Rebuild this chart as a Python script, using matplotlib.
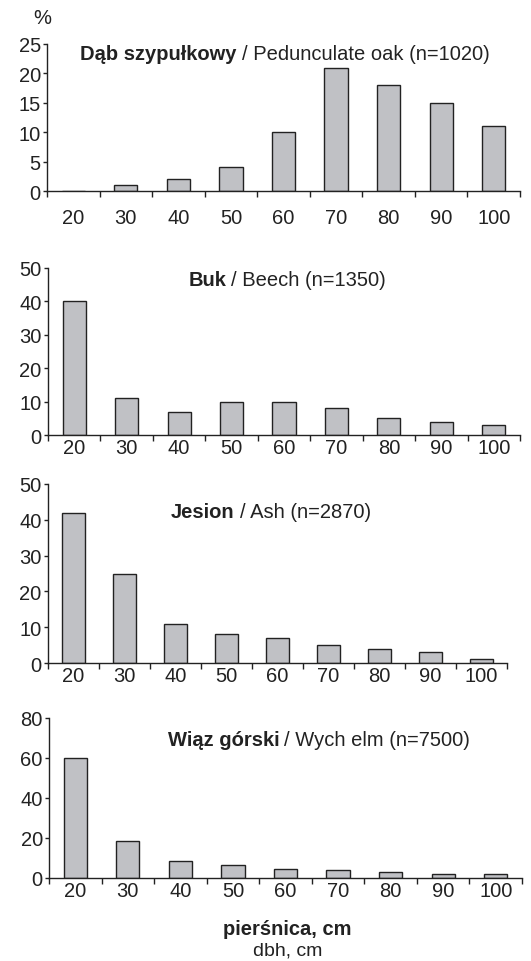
import numpy as np
import matplotlib
matplotlib.use("Agg")
import matplotlib.pyplot as plt

plt.rcParams['font.family'] = ['Liberation Sans', 'DejaVu Sans']

# pierśnica / dbh classes, cm
klasy = [20, 30, 40, 50, 60, 70, 80, 90, 100]

dab = [0, 1, 2, 4, 10, 21, 18.1, 14.9, 11.1]
buk = [40, 11, 7, 10, 10, 8, 5, 4, 3]
jesion = [42, 25, 11, 8, 7, 5, 4, 3, 1]
wiaz = [60, 18.5, 8.5, 6.5, 4.7, 3.8, 2.8, 2, 2]

gatunki_pl = ["Dąb szypułkowy", "Buk", "Jesion", "Wiąz górski"]
gatunki_en = ["Pedunculate oak (n=1020)", "Beech (n=1350)", "Ash (n=2870)", "Wych elm (n=7500)"]
ymax = [25, 50, 50, 80]
ystep = [5, 10, 10, 20]

W, H = 531, 962
fig = plt.figure(figsize=(W / 100, H / 100), dpi=100)

# panel boxes in pixels: left, right, top, bottom
boxy = [(47, 520, 45, 192), (48, 520, 269, 436), (48, 507, 485, 664), (49, 522, 719, 879)]
# title positions (x center, y) in pixels
tytul = [(285, 55), (287, 280), (271, 513), (319, 741)]
xpad = [12, 2.5, 2, 2.5]

ink = "#222222"
fs = 14.5
dane = [dab, buk, jesion, wiaz]
rend = fig.canvas.get_renderer()

for i, vals in enumerate(dane):
    l, r, t, b = boxy[i]
    ax = fig.add_axes([l / W, 1 - b / H, (r - l) / W, (b - t) / H])
    ax.bar(klasy, vals, width=4.4, color="#c0c1c5", edgecolor=ink, linewidth=1.0)
    ax.set_xlim(15, 105)
    ax.set_ylim(0, ymax[i])
    ax.set_yticks(np.arange(0, ymax[i] + 1, ystep[i]))
    ax.set_xticks(klasy)
    ax.set_xticks(np.arange(15, 106, 10), minor=True)
    ax.tick_params(axis='x', which='major', length=0, pad=xpad[i], labelsize=fs, colors=ink)
    ax.tick_params(axis='x', which='minor', length=4, width=1, direction='out', color=ink)
    ax.tick_params(axis='y', length=3, width=1, direction='out', labelsize=fs, pad=1.5, colors=ink)
    for s in ['top', 'right']:
        ax.spines[s].set_visible(False)
    for s in ['left', 'bottom']:
        ax.spines[s].set_color(ink)
        ax.spines[s].set_linewidth(1.0)
    ax.patch.set_alpha(0)

    # bold Polish name + regular English name, centred together
    tx, ty = tytul[i]
    bold = fig.text(0, 1 - ty / H, gatunki_pl[i], fontsize=fs, fontweight='bold',
                    color=ink, va='center', ha='left')
    reg = fig.text(0, 1 - ty / H, "/ " + gatunki_en[i], fontsize=fs,
                   color=ink, va='center', ha='left')
    wb = bold.get_window_extent(rend).width
    wr = reg.get_window_extent(rend).width
    gap = 5
    x0 = tx - (wb + gap + wr) / 2
    bold.set_x(x0 / W)
    reg.set_x((x0 + wb + gap) / W)

fig.text(42 / W, 1 - 18 / H, "%", fontsize=fs, color=ink, ha='center', va='center')
fig.text(287 / W, 1 - 930 / H, "pierśnica, cm", fontsize=fs, fontweight='bold',
         color=ink, ha='center', va='center')
fig.text(288 / W, 1 - 951 / H, "dbh, cm", fontsize=14, color=ink, ha='center', va='center')

fig.savefig("out.png", dpi=100)
